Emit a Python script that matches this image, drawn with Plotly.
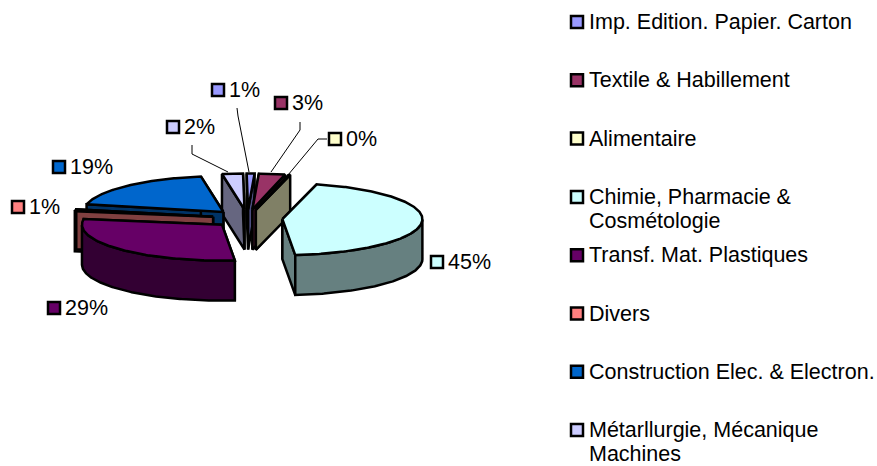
import math
import plotly.graph_objects as go

categories = ["Imp. Edition. Papier. Carton", "Textile &amp; Habillement", "Alimentaire",
              "Chimie, Pharmacie &amp;<br>Cosmétologie", "Transf. Mat. Plastiques", "Divers",
              "Construction Elec. &amp; Electron.", "Métarllurgie, Mécanique<br>Machines"]
values = [0.9, 3.0, 0.2, 44.51, 28.9, 0.9, 19.0, 2.4]
top_colors = ["#9999FF", "#993366", "#FFFFCC", "#CCFFFF", "#660066", "#FF8080", "#0066CC", "#CCCCFF"]
side_colors = ["#4D4D80", "#4D1A33", "#808066", "#668080", "#330033", "#804040", "#003366", "#666680"]

# layout constants (pixel-space axes)
CX, CY, RX, RY, DEPTH, EXPLODE = 247.5, 218.5, 140, 36, 40, 0.25
ROTATION = -0.6
PAINT_ORDER = [7, 0, 1, 2, 6, 5, 4, 3]
LABEL_KEYS = [(218, 90), (281, 103), (335, 139), (437, 262), (54, 308), (18, 207), (59, 167), (173, 127)]
LEGEND_X, LEGEND_Y0, LEGEND_STEP, LINE_STEP = 577, 22, 58.3, 24
LEADERS = [[(237, 108), (238, 116), (249, 172)],
           [(300, 122), (300, 130), (271, 172)],
           [(327, 139), (318, 139), (288, 175)],
           [(192, 145), (192, 154), (228, 172)]]
FONT = "Liberation Sans, Arial, sans-serif"
FS = 21.5

fig = go.Figure()


def poly(xs, ys, color):
    fig.add_trace(go.Scatter(x=xs, y=ys, mode="lines", fill="toself", fillcolor=color,
                             line=dict(color="#000000", width=2.5), hoverinfo="skip", showlegend=False))


total = sum(values)
edges = [ROTATION]
for v in values:
    edges.append(edges[-1] + v / total * 360)


def slice_geom(i):
    a0, a1 = edges[i], edges[i + 1]
    m = math.radians((a0 + a1) / 2)
    ax = CX + EXPLODE * RX * math.sin(m)
    ay = CY - EXPLODE * RY * math.cos(m)
    n = max(2, int((a1 - a0) * 1.5))
    ts = [a0 + (a1 - a0) * k / n for k in range(n + 1)]
    return a0, a1, ax, ay, ts


def rim(ax, ay, t):
    r = math.radians(t)
    return ax + RX * math.sin(r), ay - RY * math.cos(r)


for i in PAINT_ORDER:
    a0, a1, ax, ay, ts = slice_geom(i)
    for edge in (a0, a1):
        rx_, ry_ = rim(ax, ay, edge)
        poly([ax, rx_, rx_, ax, ax], [ay, ry_, ry_ + DEPTH, ay + DEPTH, ay], side_colors[i])
    front = [t for t in ts if 90 <= t <= 270]
    if len(front) > 1:
        pts = [rim(ax, ay, t) for t in front]
        xs = [p[0] for p in pts] + [p[0] for p in reversed(pts)]
        ys = [p[1] for p in pts] + [p[1] + DEPTH for p in reversed(pts)]
        poly(xs + xs[:1], ys + ys[:1], side_colors[i])
    pts = [rim(ax, ay, t) for t in ts]
    poly([ax] + [p[0] for p in pts] + [ax], [ay] + [p[1] for p in pts] + [ay], top_colors[i])

for path in LEADERS:
    fig.add_trace(go.Scatter(x=[p[0] for p in path], y=[p[1] for p in path], mode="lines",
                             line=dict(color="#000000", width=1), hoverinfo="skip", showlegend=False))

legend_ys = [LEGEND_Y0 + LEGEND_STEP * i for i in range(len(categories))]
key_x = [p[0] for p in LABEL_KEYS] + [LEGEND_X] * len(categories)
key_y = [p[1] for p in LABEL_KEYS] + legend_ys
fig.add_trace(go.Scatter(x=key_x, y=key_y, mode="markers", hoverinfo="skip", showlegend=False,
                         marker=dict(symbol="square", size=12, color=top_colors + top_colors,
                                     line=dict(color="#000000", width=2.5))))

annotations = []


def text(x, y, s):
    annotations.append(dict(x=x, y=y, text=s, xref="x", yref="y", xanchor="left", yanchor="middle",
                            showarrow=False, borderpad=0, borderwidth=0,
                            font=dict(family=FONT, size=FS, color="#000000")))


for (kx, ky), v in zip(LABEL_KEYS, values):
    text(kx + 11, ky, f"{round(v / total * 100)}%")
for y, name in zip(legend_ys, categories):
    for j, line in enumerate(name.split("<br>")):
        text(LEGEND_X + 12, y + LINE_STEP * j, line)

fig.update_layout(width=877, height=466, margin=dict(l=0, r=0, t=0, b=0),
                  paper_bgcolor="#FFFFFF", plot_bgcolor="#FFFFFF", annotations=annotations,
                  xaxis=dict(range=[0, 877], visible=False, fixedrange=True),
                  yaxis=dict(range=[466, 0], visible=False, fixedrange=True))
fig.write_html("out.html", config={"displayModeBar": False},
               post_script="document.body.style.margin='0';document.documentElement.style.overflow='hidden';")
